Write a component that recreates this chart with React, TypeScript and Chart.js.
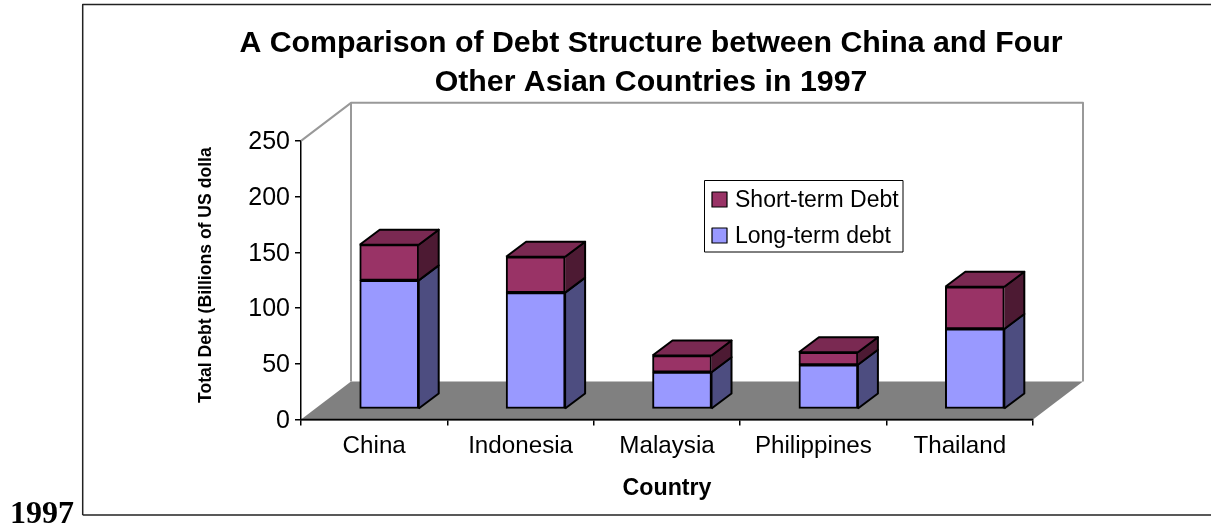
import React, { useEffect, useRef } from "react";
import { Chart, registerables } from "chart.js";

Chart.register(...registerables);

const categories = ["China", "Indonesia", "Malaysia", "Philippines", "Thailand"];
const longTermDebt = [115, 104, 32.6, 39.2, 71.4];
const shortTermDebt = [32, 32.2, 14.9, 11.3, 37.8];
const valueTicks = [0, 50, 100, 150, 200, 250];

const SANS = '"Liberation Sans", Arial, sans-serif';
const FLOOR_DX = 50;
const FLOOR_DY = -38;
const BAR_DX = 20;
const BAR_DY = -15;
const BAR_LIFT = 9.86; // bars stand this many value units up the sloping floor
const BAR_SHIFT = 0.1025; // and this far (in categories) to the right of the slot centre

const LONG = { front: "#9999FF", side: "#4D4D80" };
const SHORT = { front: "#993366", side: "#4D1A33", top: "#7A2952" };

function poly(ctx: CanvasRenderingContext2D, pts: number[][], fill?: string, stroke?: string, lw = 2) {
  ctx.beginPath();
  pts.forEach(([x, y], i) => (i ? ctx.lineTo(x, y) : ctx.moveTo(x, y)));
  if (fill) {
    ctx.closePath();
    ctx.fillStyle = fill;
    ctx.fill();
  }
  if (stroke) {
    ctx.strokeStyle = stroke;
    ctx.lineWidth = lw;
    ctx.lineJoin = "round";
    ctx.stroke();
  }
}

// Page frame, the back walls and the floor of the 3-D box, plus the stray caption and axis title.
const scenery = {
  id: "scenery",
  beforeDatasetsDraw(chart: any) {
    const { ctx, scales } = chart;
    const x0 = scales.x.left;
    const x1 = scales.x.right;
    const yBottom = scales.y.getPixelForValue(0);
    const yTop = scales.y.getPixelForValue(250);
    ctx.save();
    poly(ctx, [[82.7, 515], [82.7, 4.5], [1211, 4.5]], undefined, "#222222", 1.5);
    poly(ctx, [[1211, 515], [82.7, 515]], undefined, "#222222", 1.5);

    const wall = "#999999";
    poly(
      ctx,
      [
        [x0, yBottom],
        [x1, yBottom],
        [x1 + FLOOR_DX, yBottom + FLOOR_DY],
        [x0 + FLOOR_DX, yBottom + FLOOR_DY],
      ],
      "#808080"
    );
    poly(ctx, [[x0, yTop], [x0 + FLOOR_DX, yTop + FLOOR_DY], [x1 + FLOOR_DX, yTop + FLOOR_DY], [x1 + FLOOR_DX, yBottom + FLOOR_DY]], undefined, wall);
    poly(ctx, [[x0 + FLOOR_DX, yTop + FLOOR_DY], [x0 + FLOOR_DX, yBottom + FLOOR_DY]], undefined, wall);
    poly(ctx, [[x0, yBottom], [x1, yBottom]], undefined, "#000000", 1.5);

    ctx.fillStyle = "#000";
    ctx.textBaseline = "alphabetic";
    ctx.textAlign = "left";
    ctx.font = 'bold 32px "Liberation Serif", serif';
    ctx.fillText("1997", 10, 523);

    ctx.save();
    ctx.beginPath();
    ctx.rect(190, 146, 40, 270);
    ctx.clip();
    ctx.translate(211, 403);
    ctx.rotate(-Math.PI / 2);
    ctx.font = `bold 17.6px ${SANS}`;
    ctx.fillText("Total Debt (Billions of US dollars)", 0, 0);
    ctx.restore();
    ctx.restore();
  },
  // Right-hand and top faces of each stacked column, then the legend over everything.
  afterDatasetsDraw(chart: any) {
    const { ctx } = chart;
    const longBars = chart.getDatasetMeta(0).data;
    const shortBars = chart.getDatasetMeta(1).data;
    ctx.save();
    longBars.forEach((bar: any, i: number) => {
      const top = shortBars[i];
      const l = bar.x - bar.width / 2;
      const r = bar.x + bar.width / 2;
      poly(ctx, [[r, bar.y], [r + BAR_DX, bar.y + BAR_DY], [r + BAR_DX, bar.base + BAR_DY], [r, bar.base]], LONG.side);
      poly(ctx, [[r, bar.y], [r + BAR_DX, bar.y + BAR_DY], [r + BAR_DX, bar.base + BAR_DY], [r, bar.base]], undefined, "#000");
      poly(ctx, [[r, bar.y], [r, bar.base]], undefined, "#000");
      poly(ctx, [[r, top.y], [r + BAR_DX, top.y + BAR_DY], [r + BAR_DX, bar.y + BAR_DY], [r, bar.y]], SHORT.side);
      poly(ctx, [[r, top.y], [r + BAR_DX, top.y + BAR_DY], [r + BAR_DX, bar.y + BAR_DY], [r, bar.y]], undefined, "#000");
      poly(ctx, [[l, top.y], [l + BAR_DX, top.y + BAR_DY], [r + BAR_DX, top.y + BAR_DY], [r, top.y]], SHORT.top);
      poly(ctx, [[l, top.y], [l + BAR_DX, top.y + BAR_DY], [r + BAR_DX, top.y + BAR_DY], [r, top.y], [l, top.y]], undefined, "#000");
    });

    poly(ctx, [[704.5, 180.5], [903, 180.5], [903, 252], [704.5, 252], [704.5, 180.5]], "#FFFFFF", "#000", 1);
    const rows = [
      { y: 192, ds: chart.data.datasets[1] },
      { y: 228, ds: chart.data.datasets[0] },
    ];
    rows.forEach(({ y, ds }) => {
      poly(ctx, [[712, y], [727, y], [727, y + 15], [712, y + 15], [712, y]], ds.backgroundColor, "#000", 1.2);
      ctx.fillStyle = "#000";
      ctx.font = `23px ${SANS}`;
      ctx.textAlign = "left";
      ctx.textBaseline = "middle";
      ctx.fillText(ds.label, 735, y + 9);
    });
    ctx.restore();
  },
};

export default function App() {
  const ref = useRef<HTMLCanvasElement>(null);

  useEffect(() => {
    const chart = new Chart(ref.current as HTMLCanvasElement, {
      type: "bar",
      data: {
        labels: categories,
        datasets: [
          {
            label: "Long-term debt",
            data: longTermDebt.map((y, x) => ({ x, y })),
            backgroundColor: LONG.front,
            borderColor: "#000000",
            borderWidth: 2,
            borderSkipped: false,
            barThickness: 59,
            xAxisID: "xBars",
            yAxisID: "yBars",
          },
          {
            label: "Short-term Debt",
            data: shortTermDebt.map((y, x) => ({ x, y })),
            backgroundColor: SHORT.front,
            borderColor: "#000000",
            borderWidth: 2,
            borderSkipped: false,
            barThickness: 59,
            xAxisID: "xBars",
            yAxisID: "yBars",
          },
        ],
      },
      options: {
        animation: false,
        responsive: false,
        layout: { padding: { left: 91, right: 0, top: 0, bottom: 20 } },
        plugins: {
          legend: { display: false },
          tooltip: { enabled: false },
          title: {
            display: true,
            text: [
              "A Comparison of Debt Structure between China and Four",
              "Other Asian Countries in 1997",
            ],
            color: "#000000",
            font: { family: SANS, size: 30.3, weight: "bold", lineHeight: 1.29 },
            padding: { top: 24.5, bottom: 38.2 },
          },
        },
        scales: {
          x: {
            type: "category",
            offset: true,
            position: "bottom",
            afterFit: (s: any) => {
              s.height = 85.5;
            },
            grid: { offset: true, drawOnChartArea: false, color: "#000000", lineWidth: 1.5, tickLength: 6 },
            border: { color: "#000000", width: 1.5 },
            ticks: { color: "#000000", font: { family: SANS, size: 24.2 }, padding: 6, maxRotation: 0 },
            title: {
              display: true,
              text: "Country",
              color: "#000000",
              font: { family: SANS, size: 23.2, weight: "bold" },
              padding: { top: 0, bottom: 2 },
            },
          },
          y: {
            type: "linear",
            position: "left",
            min: 0,
            max: 250,
            afterFit: (s: any) => {
              s.width = 210;
            },
            afterBuildTicks: (s: any) => {
              s.ticks = valueTicks.map((value) => ({ value }));
            },
            grid: { drawOnChartArea: false, color: "#000000", lineWidth: 1.5, tickLength: 6 },
            border: { color: "#000000", width: 1.5 },
            ticks: { color: "#000000", font: { family: SANS, size: 25 }, padding: 5, labelOffset: 1.5 },
          },
          xBars: {
            type: "linear",
            display: false,
            stacked: true,
            offset: false,
            grid: { offset: false },
            min: -0.5 - BAR_SHIFT,
            max: categories.length - 0.5 - BAR_SHIFT,
          },
          yBars: {
            type: "linear",
            position: "right",
            stacked: true,
            min: -BAR_LIFT,
            max: 250 - BAR_LIFT,
            afterFit: (s: any) => {
              s.width = 178;
            },
            grid: { display: false },
            border: { display: false },
            ticks: { display: false },
          },
        },
      },
      plugins: [scenery],
    } as any);
    return () => chart.destroy();
  }, []);

  return (
    <div style={{ position: "absolute", left: 0, top: 0, background: "#fff" }}>
      <canvas ref={ref} width={1211} height={525} style={{ display: "block" }} />
    </div>
  );
}
